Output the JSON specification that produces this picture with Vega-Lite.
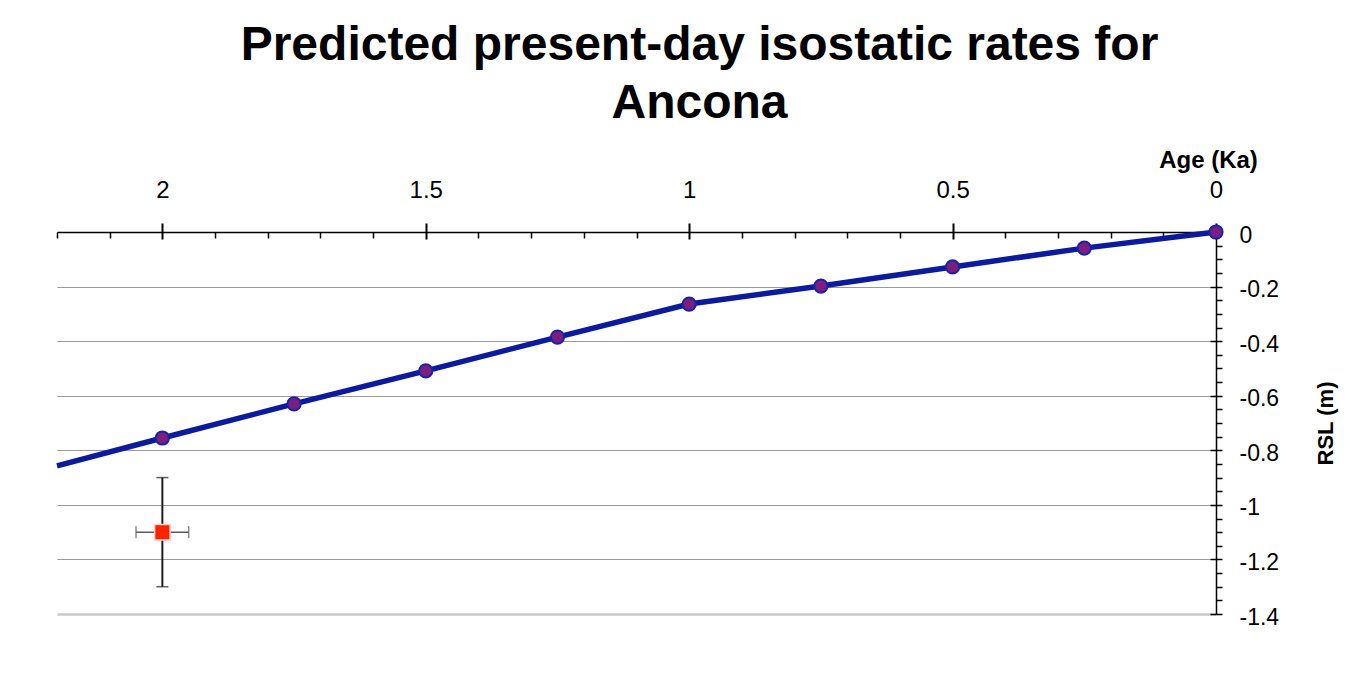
{
  "$schema": "https://vega.github.io/schema/vega-lite/v6.json",
  "autosize": {"type": "none"},
  "width": 1159,
  "height": 382,
  "padding": {"left": 57, "top": 232, "right": 139, "bottom": 66},
  "background": "#ffffff",
  "config": {
    "view": {"stroke": null},
    "font": "Liberation Sans",
    "axis": {"labelFont": "Liberation Sans", "titleFont": "Liberation Sans"}
  },
  "title": {
    "text": ["Predicted present-day isostatic rates for", "Ancona"],
    "font": "Liberation Sans",
    "fontSize": 48,
    "fontWeight": "bold",
    "color": "#000000",
    "anchor": "middle",
    "frame": "group",
    "dx": 63,
    "lineHeight": 58,
    "offset": 20
  },
  "datasets": {
    "model": [
      {"age": 0.0, "rsl": 0.0},
      {"age": 0.25, "rsl": -0.059},
      {"age": 0.5, "rsl": -0.128},
      {"age": 0.75, "rsl": -0.198},
      {"age": 1.0, "rsl": -0.264},
      {"age": 1.25, "rsl": -0.385},
      {"age": 1.5, "rsl": -0.509},
      {"age": 1.75, "rsl": -0.63},
      {"age": 2.0, "rsl": -0.755},
      {"age": 2.2, "rsl": -0.857}
    ],
    "observed": [
      {"age": 2.0, "age_min": 1.95, "age_max": 2.05, "rsl": -1.1, "rsl_min": -1.3, "rsl_max": -0.9}
    ]
  },
  "resolve": {"axis": {"x": "independent", "y": "independent"}},
  "layer": [
    {
      "data": {"name": "model"},
      "mark": {"type": "line", "color": "#0b1b9c", "strokeWidth": 5.5},
      "encoding": {
        "x": {
          "field": "age",
          "type": "quantitative",
          "scale": {"domain": [0, 2.2], "reverse": true, "nice": false, "zero": false},
          "axis": {
            "orient": "top",
            "title": "Age (Ka)",
            "titleFontSize": 24,
            "titleFontWeight": "bold",
            "titleColor": "#000000",
            "titleAlign": "center",
            "titleBaseline": "middle",
            "titleX": 1151,
            "titleY": -72,
            "values": [0, 0.5, 1, 1.5, 2],
            "labelExpr": "toString(datum.value)",
            "labelFontSize": 24,
            "labelColor": "#000000",
            "labelPadding": 21,
            "labelFlush": false,
            "labelOverlap": false,
            "tickSize": 9,
            "tickWidth": 2,
            "tickColor": "#000000",
            "domainColor": "#000000",
            "domainWidth": 1.5,
            "grid": false
          }
        },
        "y": {
          "field": "rsl",
          "type": "quantitative",
          "scale": {"domain": [-1.4, 0], "nice": false, "zero": false},
          "axis": {
            "orient": "right",
            "title": "RSL (m)",
            "titleFontSize": 22,
            "titleFontWeight": "bold",
            "titleColor": "#000000",
            "titleAngle": 270,
            "titleAlign": "center",
            "titleBaseline": "middle",
            "titleX": 109,
            "titleY": 191,
            "values": [0, -0.2, -0.4, -0.6, -0.8, -1, -1.2, -1.4],
            "labelExpr": "toString(datum.value)",
            "labelFontSize": 23,
            "labelColor": "#000000",
            "labelPadding": 17,
            "labelOffset": 3,
            "labelFlush": false,
            "labelOverlap": false,
            "tickSize": 6,
            "tickWidth": 1.5,
            "tickColor": "#000000",
            "domainColor": "#000000",
            "domainWidth": 1.5,
            "grid": true,
            "gridColor": {"condition": {"test": "datum.value == -1.4", "value": "#c8c8c8"}, "value": "#9a9a9a"},
            "gridWidth": {"condition": {"test": "datum.value == -1.4", "value": 2.5}, "value": 1}
          }
        }
      }
    },
    {
      "data": {"name": "model"},
      "transform": [{"filter": "datum.age <= 2"}],
      "mark": {"type": "point", "shape": "circle", "filled": true, "size": 175, "fill": "#7b1f7e", "stroke": "#1a22a8", "strokeWidth": 2, "opacity": 1},
      "encoding": {
        "x": {
          "field": "age",
          "type": "quantitative",
          "axis": {
            "orient": "top",
            "title": null,
            "values": [0, 0.5, 1, 1.5, 2],
            "labels": false,
            "domain": false,
            "grid": false,
            "tickSize": -7,
            "tickWidth": 2,
            "tickColor": "#000000"
          }
        },
        "y": {
          "field": "rsl",
          "type": "quantitative",
          "axis": {
            "orient": "right",
            "title": null,
            "values": [0, -0.2, -0.4, -0.6, -0.8, -1, -1.2, -1.4],
            "labels": false,
            "domain": false,
            "grid": false,
            "tickSize": -6,
            "tickWidth": 1.5,
            "tickColor": "#000000"
          }
        }
      }
    },
    {
      "data": {"name": "observed"},
      "mark": {"type": "rule", "color": "#5a5a5a", "strokeWidth": 1.5},
      "encoding": {
        "x": {
          "field": "age_min",
          "type": "quantitative",
          "axis": {
            "orient": "top",
            "title": null,
            "values": [0.1, 0.2, 0.3, 0.4, 0.6, 0.7, 0.8, 0.9, 1.1, 1.2, 1.3, 1.4, 1.6, 1.7, 1.8, 1.9, 2.1, 2.2],
            "labels": false,
            "domain": false,
            "grid": false,
            "tickSize": -6,
            "tickWidth": 1.5,
            "tickColor": "#000000"
          }
        },
        "x2": {"field": "age_max"},
        "y": {
          "field": "rsl",
          "type": "quantitative",
          "axis": {
            "orient": "right",
            "title": null,
            "values": [-0.05, -0.1, -0.15, -0.25, -0.3, -0.35, -0.45, -0.5, -0.55, -0.65, -0.7, -0.75, -0.85, -0.9, -0.95, -1.05, -1.1, -1.15, -1.25, -1.3, -1.35],
            "labels": false,
            "domain": false,
            "grid": false,
            "tickSize": 6,
            "tickWidth": 1.5,
            "tickColor": "#000000"
          }
        }
      }
    },
    {
      "data": {"name": "observed"},
      "mark": {"type": "tick", "orient": "vertical", "color": "#5a5a5a", "size": 12, "thickness": 1.5},
      "encoding": {
        "x": {"field": "age_min", "type": "quantitative", "axis": null},
        "y": {"field": "rsl", "type": "quantitative", "axis": null}
      }
    },
    {
      "data": {"name": "observed"},
      "mark": {"type": "tick", "orient": "vertical", "color": "#5a5a5a", "size": 12, "thickness": 1.5},
      "encoding": {
        "x": {"field": "age_max", "type": "quantitative", "axis": null},
        "y": {"field": "rsl", "type": "quantitative", "axis": null}
      }
    },
    {
      "data": {"name": "observed"},
      "mark": {"type": "rule", "color": "#1e1e1e", "strokeWidth": 2},
      "encoding": {
        "x": {"field": "age", "type": "quantitative", "axis": null},
        "y": {"field": "rsl_min", "type": "quantitative", "axis": null},
        "y2": {"field": "rsl_max"}
      }
    },
    {
      "data": {"name": "observed"},
      "mark": {"type": "tick", "orient": "horizontal", "color": "#1e1e1e", "size": 12, "thickness": 1.5},
      "encoding": {
        "x": {"field": "age", "type": "quantitative", "axis": null},
        "y": {"field": "rsl_min", "type": "quantitative", "axis": null}
      }
    },
    {
      "data": {"name": "observed"},
      "mark": {"type": "tick", "orient": "horizontal", "color": "#1e1e1e", "size": 12, "thickness": 1.5},
      "encoding": {
        "x": {"field": "age", "type": "quantitative", "axis": null},
        "y": {"field": "rsl_max", "type": "quantitative", "axis": null}
      }
    },
    {
      "data": {"name": "observed"},
      "mark": {"type": "point", "shape": "square", "filled": true, "size": 240, "fill": "#ff2200", "stroke": "#ffd0c8", "strokeWidth": 1.5, "opacity": 1},
      "encoding": {
        "x": {"field": "age", "type": "quantitative", "axis": null},
        "y": {"field": "rsl", "type": "quantitative", "axis": null}
      }
    }
  ]
}
